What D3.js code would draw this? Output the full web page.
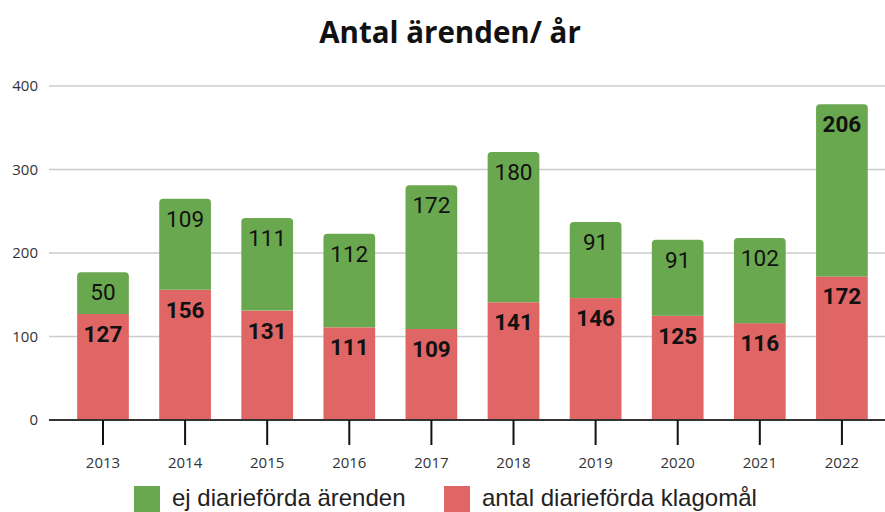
<!DOCTYPE html>
<html>
<head>
<meta charset="utf-8">
<script src="https://cdn.jsdelivr.net/npm/d3@7"></script>
<style>
  body { margin: 0; background: #fff; }
  svg { display: block; }
</style>
</head>
<body>
<svg id="chart" width="885" height="512"></svg>
<script>
var YEARS = ['2013', '2014', '2015', '2016', '2017', '2018', '2019', '2020', '2021', '2022'];
var KLAGOMAL = [127, 156, 131, 111, 109, 141, 146, 125, 116, 172];
var EJ_DIARIEFORDA = [50, 109, 111, 112, 172, 180, 91, 91, 102, 206];
var Y_TICKS = [0, 100, 200, 300, 400];
var SERIES_NAMES = ['ej diarieförda ärenden', 'antal diarieförda klagomål'];

var GREEN = '#6aa84f', RED = '#e06666';

var svg = d3.select('#chart');
var margin = {left: 49, right: 0, top: 86, bottom: 92};

var x = d3.scaleBand().domain(YEARS)
  .range([60.7, 884.2]).paddingInner(0.37).paddingOuter(0.2);
var y = d3.scaleLinear().domain([0, 400]).range([420, 86]);

// title
svg.append('text')
  .attr('x', 450).attr('y', 43)
  .attr('text-anchor', 'middle')
  .style('font-family', '"Open Sans", sans-serif')
  .style('font-weight', 'bold')
  .style('font-size', '29.5px')
  .attr('fill', '#111')
  .text('Antal ärenden/ år');

// grid + y labels
var yAxis = svg.append('g');
yAxis.selectAll('line').data(Y_TICKS.filter(function(d) { return d > 0; }))
  .enter().append('line')
  .attr('x1', margin.left).attr('x2', 885)
  .attr('y1', function(d) { return y(d); })
  .attr('y2', function(d) { return y(d); })
  .attr('stroke', '#ccc').attr('stroke-width', 1.5);
yAxis.selectAll('text').data(Y_TICKS)
  .enter().append('text')
  .attr('x', 38).attr('y', function(d) { return y(d); })
  .attr('dy', '0.35em')
  .attr('text-anchor', 'end')
  .style('font-family', '"Open Sans", sans-serif')
  .style('font-size', '15px')
  .attr('fill', '#333')
  .text(function(d) { return d; });

// stacked data
var rows = YEARS.map(function(yr, i) {
  return {year: yr, red: KLAGOMAL[i], green: EJ_DIARIEFORDA[i]};
});

var bw = x.bandwidth();

// top-rounded path for green segment
var roundedTop = function(x0, y0, w, h, r) {
  return 'M' + x0 + ',' + (y0 + h) +
    'V' + (y0 + r) +
    'Q' + x0 + ',' + y0 + ' ' + (x0 + r) + ',' + y0 +
    'H' + (x0 + w - r) +
    'Q' + (x0 + w) + ',' + y0 + ' ' + (x0 + w) + ',' + (y0 + r) +
    'V' + (y0 + h) + 'Z';
};

var bars = svg.append('g');
bars.selectAll('.red').data(rows).enter().append('rect')
  .attr('x', function(d) { return x(d.year); })
  .attr('width', bw)
  .attr('y', function(d) { return y(d.red); })
  .attr('height', function(d) { return y(0) - y(d.red); })
  .attr('fill', RED);
bars.selectAll('.green').data(rows).enter().append('path')
  .attr('d', function(d) {
    var top = y(d.red + d.green);
    return roundedTop(x(d.year), top, bw, y(d.red) - top, 4);
  })
  .attr('fill', GREEN);

// value labels
var labels = svg.append('g')
  .style('font-family', 'Roboto, sans-serif')
  .style('font-size', '22.5px')
  .attr('text-anchor', 'middle')
  .attr('fill', '#111');
labels.selectAll('.lr').data(rows).enter().append('text')
  .attr('x', function(d) { return x(d.year) + bw / 2; })
  .attr('y', function(d) { return y(d.red) + 28; })
  .style('font-weight', 'bold')
  .text(function(d) { return d.red; });
labels.selectAll('.lg').data(rows).enter().append('text')
  .attr('x', function(d) { return x(d.year) + bw / 2; })
  .attr('y', function(d) { return y(d.red + d.green) + 28; })
  .style('font-weight', function(d, i) { return i === rows.length - 1 ? 'bold' : 'normal'; })
  .text(function(d) { return d.green; });

// x axis
var xAxis = svg.append('g').attr('transform', 'translate(0,420)');
xAxis.append('line').attr('x1', margin.left).attr('x2', 885)
  .attr('stroke', '#333').attr('stroke-width', 2);
xAxis.selectAll('.tick').data(YEARS).enter().append('line')
  .attr('x1', function(d) { return x(d) + bw / 2; })
  .attr('x2', function(d) { return x(d) + bw / 2; })
  .attr('y1', 0).attr('y2', 25)
  .attr('stroke', '#111').attr('stroke-width', 2);
xAxis.selectAll('text').data(YEARS).enter().append('text')
  .attr('x', function(d) { return x(d) + bw / 2; })
  .attr('y', 48)
  .attr('text-anchor', 'middle')
  .style('font-family', '"Open Sans", sans-serif')
  .style('font-size', '15px')
  .attr('fill', '#333')
  .text(function(d) { return d; });

// legend (kept just inside the bottom edge)
var legendPos = [134, 444];
var legend = svg.append('g');
SERIES_NAMES.forEach(function(name, i) {
  var g = legend.append('g').attr('transform', 'translate(' + legendPos[i] + ',486)');
  g.append('rect').attr('width', 26).attr('height', 26).attr('fill', i === 0 ? GREEN : RED);
  g.append('text').attr('x', 38).attr('y', 20)
    .style('font-family', '"Liberation Sans", Arial, sans-serif')
    .style('font-size', '24px')
    .attr('fill', '#222')
    .text(name);
});
</script>
</body>
</html>
